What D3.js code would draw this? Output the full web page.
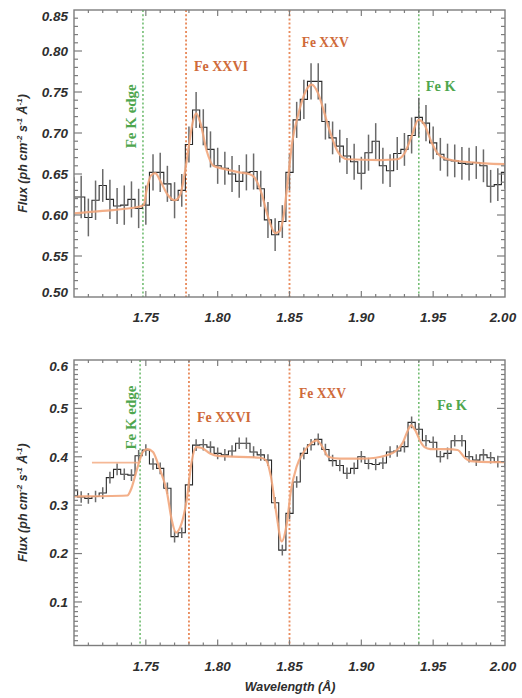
<!DOCTYPE html>
<html>
<head>
<meta charset="utf-8">
<script src="https://cdn.jsdelivr.net/npm/d3@7"></script>
<style>
  html, body { margin: 0; padding: 0; background: #fff; }
  svg { display: block; }
</style>
</head>
<body>
<svg id="chart" width="522" height="698"></svg>
<script>
// ---------------- spectral data ----------------
// Bin grid: centres every 0.005 Å from 1.700 to 2.000
const binWidth = 0.005;
const binWave = d3.range(61).map(i => +(1.700 + i * binWidth).toFixed(3));

// Upper spectrum (flux and 1-sigma errors per bin)
const topFlux = [
  0.622, 0.622, 0.597, 0.618, 0.636, 0.619, 0.611, 0.612, 0.619, 0.608,
  0.612, 0.652, 0.652, 0.638, 0.618, 0.630, 0.686, 0.728, 0.707, 0.680,
  0.660, 0.657, 0.650, 0.641, 0.652, 0.653, 0.632, 0.594, 0.576, 0.592,
  0.652, 0.716, 0.741, 0.763, 0.763, 0.714, 0.694, 0.684, 0.672, 0.665,
  0.651, 0.676, 0.690, 0.660, 0.654, 0.675, 0.680, 0.697, 0.719, 0.712,
  0.688, 0.674, 0.667, 0.666, 0.663, 0.662, 0.664, 0.660, 0.635, 0.637,
  0.652
];
const topErr = [
  0.024, 0.026, 0.023, 0.024, 0.020, 0.024, 0.022, 0.024, 0.022, 0.024,
  0.024, 0.022, 0.024, 0.022, 0.022, 0.020, 0.022, 0.022, 0.022, 0.022,
  0.022, 0.020, 0.022, 0.020, 0.022, 0.022, 0.022, 0.022, 0.020, 0.020,
  0.022, 0.022, 0.024, 0.022, 0.022, 0.022, 0.020, 0.020, 0.022, 0.022,
  0.020, 0.022, 0.022, 0.022, 0.020, 0.020, 0.020, 0.022, 0.024, 0.022,
  0.020, 0.020, 0.020, 0.020, 0.020, 0.020, 0.020, 0.020, 0.020, 0.020,
  0.020
];

// Lower spectrum
const bottomFlux = [
  0.331, 0.317, 0.314, 0.318, 0.325, 0.357, 0.374, 0.364, 0.362, 0.402,
  0.414, 0.385, 0.376, 0.335, 0.235, 0.243, 0.342, 0.424, 0.425, 0.420,
  0.407, 0.404, 0.412, 0.428, 0.428, 0.410, 0.404, 0.393, 0.305, 0.207,
  0.283, 0.348, 0.407, 0.425, 0.436, 0.415, 0.392, 0.382, 0.366, 0.376,
  0.400, 0.386, 0.384, 0.387, 0.410, 0.412, 0.421, 0.471, 0.457, 0.433,
  0.430, 0.400, 0.407, 0.433, 0.433, 0.400, 0.393, 0.404, 0.398, 0.390,
  0.390
];
const bottomErr = [
  0.012, 0.012, 0.011, 0.012, 0.012, 0.012, 0.012, 0.012, 0.012, 0.012,
  0.012, 0.012, 0.012, 0.012, 0.012, 0.011, 0.012, 0.012, 0.012, 0.012,
  0.012, 0.012, 0.012, 0.012, 0.012, 0.012, 0.012, 0.012, 0.012, 0.011,
  0.012, 0.012, 0.012, 0.012, 0.012, 0.012, 0.012, 0.012, 0.012, 0.012,
  0.012, 0.012, 0.012, 0.012, 0.012, 0.012, 0.012, 0.012, 0.012, 0.012,
  0.012, 0.012, 0.012, 0.012, 0.012, 0.012, 0.012, 0.012, 0.012, 0.012,
  0.012
];

// Best-fit models
const topModelWave = [1.700, 1.720, 1.745, 1.7485, 1.7505, 1.7535, 1.7565, 1.760, 1.765, 1.7703,
  1.774, 1.777, 1.780, 1.7825, 1.785, 1.788, 1.7924, 1.797, 1.805, 1.815, 1.822, 1.826,
  1.8306, 1.835, 1.840, 1.843, 1.846, 1.849, 1.852, 1.856, 1.861, 1.8654, 1.870, 1.874,
  1.877, 1.884, 1.890, 1.9135, 1.925, 1.930, 1.935, 1.9397, 1.944, 1.949, 1.9536, 1.960,
  1.986, 2.000];
const topModelFlux = [0.602, 0.605, 0.610, 0.612, 0.630, 0.648, 0.651, 0.642, 0.625, 0.618,
  0.625, 0.650, 0.685, 0.712, 0.724, 0.712, 0.678, 0.660, 0.656, 0.652, 0.650, 0.645,
  0.626, 0.598, 0.578, 0.580, 0.600, 0.645, 0.690, 0.722, 0.750, 0.759, 0.748, 0.726,
  0.708, 0.676, 0.668, 0.667, 0.668, 0.675, 0.696, 0.716, 0.710, 0.688, 0.674, 0.668,
  0.663, 0.662];

const bottomModelWave = [1.700, 1.737, 1.740, 1.7425, 1.745, 1.748, 1.751, 1.755, 1.7585, 1.7615,
  1.7645, 1.768, 1.771, 1.774, 1.7784, 1.7819, 1.785, 1.789, 1.7947, 1.800, 1.830, 1.834,
  1.837, 1.841, 1.8446, 1.848, 1.851, 1.855, 1.860, 1.865, 1.869, 1.873, 1.877, 1.885,
  1.900, 1.910, 1.9165, 1.924, 1.929, 1.932, 1.9346, 1.938, 1.941, 1.944, 1.948, 1.960,
  1.967, 1.972, 1.976, 1.990, 2.000];
const bottomModelFlux = [0.318, 0.320, 0.335, 0.360, 0.386, 0.410, 0.416, 0.410, 0.385, 0.360,
  0.330, 0.270, 0.243, 0.255, 0.310, 0.390, 0.420, 0.418, 0.407, 0.402, 0.398, 0.392,
  0.360, 0.280, 0.225, 0.260, 0.330, 0.380, 0.410, 0.428, 0.434, 0.420, 0.400, 0.396,
  0.396, 0.398, 0.402, 0.412, 0.430, 0.452, 0.465, 0.452, 0.432, 0.420, 0.416, 0.416,
  0.414, 0.398, 0.391, 0.389, 0.389];
// short level segment of the lower model on the blue side of the edge
const bottomShelfWave = [1.7125, 1.745];
const bottomShelfFlux = [0.388, 0.388];

// Line identifications
const lineNames = ["Fe K edge", "Fe XXVI", "Fe XXV", "Fe K"];
const lineKinds = ["edge", "ion", "ion", "edge"];
const topLineWave = [1.748, 1.778, 1.850, 1.940];
const bottomLineWave = [1.746, 1.780, 1.850, 1.940];

// Axis ticks
const xTicks = [1.75, 1.80, 1.85, 1.90, 1.95, 2.00];
const topYTicks = [0.50, 0.55, 0.60, 0.65, 0.70, 0.75, 0.80, 0.85];
const bottomYTicks = [0.1, 0.2, 0.3, 0.4, 0.5, 0.6];

// ---------------- layout & style ----------------
const svg = d3.select("#chart");
const plotLeft = 74, plotRight = 505;
const colors = {
  frame: "#7d7d7d", text: "#2e2e2e", hist: "#2a2a2a", err: "#6a6a6a",
  model: "#f2a67c", ionLine: "#e98c5e", edgeLine: "#72bd72",
  ionText: "#cf6a3a", edgeText: "#4ea64e"
};
const tickFont = "'Liberation Sans', Arial, sans-serif";
const labelFont = "'Liberation Serif', 'Times New Roman', serif";

const panels = [
  {
    id: "top", top: 10, bottom: 297, yDomain: [0.50, 0.85], yTicks: topYTicks, yFmt: d3.format(".2f"),
    flux: topFlux, err: topErr, modelWave: topModelWave, modelFlux: topModelFlux,
    lineWave: topLineWave,
    labels: [
      { w: 1.7435, f: 0.7204, rot: true, len: 64 },
      { w: 1.7835, f: 0.7751, rot: false, len: 54 },
      { w: 1.8585, f: 0.8049, rot: false, len: 47 },
      { w: 1.9448, f: 0.7507, rot: false, len: 30 }
    ]
  },
  {
    id: "bottom", top: 360, bottom: 645.5, yDomain: [0.01, 0.60], yTicks: bottomYTicks, yFmt: d3.format(".1f"),
    flux: bottomFlux, err: bottomErr, modelWave: bottomModelWave, modelFlux: bottomModelFlux,
    lineWave: bottomLineWave, shelf: true,
    labels: [
      { w: 1.7435, f: 0.4811, rot: true, len: 64 },
      { w: 1.7856, f: 0.4718, rot: false, len: 54 },
      { w: 1.8566, f: 0.5214, rot: false, len: 47 },
      { w: 1.9527, f: 0.4966, rot: false, len: 30 }
    ]
  }
];

const x = d3.scaleLinear().domain([1.70, 2.00]).range([plotLeft, plotRight]);

panels.forEach(p => {
  const y = d3.scaleLinear().domain(p.yDomain).range([p.bottom, p.top]);
  const g = svg.append("g").attr("class", "panel-" + p.id);

  const clipId = "clip-" + p.id;
  svg.append("clipPath").attr("id", clipId)
    .append("rect").attr("x", plotLeft).attr("y", p.top)
    .attr("width", plotRight - plotLeft).attr("height", p.bottom - p.top);

  const plot = g.append("g").attr("clip-path", `url(#${clipId})`);

  // dotted identification lines
  p.lineWave.forEach((w, i) => {
    const ion = lineKinds[i] === "ion";
    plot.append("line")
      .attr("x1", x(w)).attr("x2", x(w)).attr("y1", p.top).attr("y2", p.bottom)
      .attr("stroke", ion ? colors.ionLine : colors.edgeLine)
      .attr("stroke-width", ion ? 1.9 : 1.6)
      .attr("stroke-dasharray", "2,2.2");
  });

  // stepped histogram
  const steps = [];
  binWave.forEach((w, i) => {
    steps.push([w - binWidth / 2, p.flux[i]]);
    steps.push([w + binWidth / 2, p.flux[i]]);
  });
  plot.append("path")
    .attr("d", d3.line().x(d => x(d[0])).y(d => y(d[1]))(steps))
    .attr("fill", "none").attr("stroke", colors.hist).attr("stroke-width", 1.1);

  // error bars
  plot.selectAll("line.err").data(binWave).join("line").attr("class", "err")
    .attr("x1", d => x(d)).attr("x2", d => x(d))
    .attr("y1", (d, i) => y(p.flux[i] - p.err[i]))
    .attr("y2", (d, i) => y(p.flux[i] + p.err[i]))
    .attr("stroke", colors.err).attr("stroke-width", 1.5);

  // model
  const modelPts = p.modelWave.map((w, i) => [w, p.modelFlux[i]]);
  const modelLine = d3.line().x(d => x(d[0])).y(d => y(d[1])).curve(d3.curveMonotoneX);
  plot.append("path").attr("d", modelLine(modelPts))
    .attr("fill", "none").attr("stroke", colors.model).attr("stroke-width", 2.2)
    .attr("stroke-opacity", 0.9);
  if (p.shelf) {
    plot.append("path")
      .attr("d", d3.line().x(d => x(d[0])).y(d => y(d[1]))(bottomShelfWave.map((w, i) => [w, bottomShelfFlux[i]])))
      .attr("fill", "none").attr("stroke", colors.model).attr("stroke-width", 1.8).attr("stroke-opacity", 0.8);
  }

  // identification labels
  p.labels.forEach((lb, i) => {
    const ion = lineKinds[i] === "ion";
    const t = g.append("text")
      .attr("font-family", labelFont).attr("font-weight", "bold").attr("font-size", 14)
      .attr("fill", ion ? colors.ionText : colors.edgeText)
      .attr("textLength", lb.len).attr("lengthAdjust", "spacingAndGlyphs")
      .text(lineNames[i]);
    if (lb.rot) {
      t.attr("text-anchor", "middle")
        .attr("transform", `translate(${x(lb.w)},${y(lb.f)}) rotate(-90)`);
    } else {
      t.attr("x", x(lb.w)).attr("y", y(lb.f));
    }
  });

  // frame
  g.append("rect").attr("x", plotLeft).attr("y", p.top)
    .attr("width", plotRight - plotLeft).attr("height", p.bottom - p.top)
    .attr("fill", "none").attr("stroke", colors.frame).attr("stroke-width", 1.4);

  // x ticks (inward, bottom and top)
  const xMinor = d3.range(171, 200).map(v => v / 100);
  const xAll = xMinor.map(v => ({ v, major: Math.abs(v * 20 - Math.round(v * 20)) < 1e-6 }));
  xAll.forEach(t => {
    const len = t.major ? 6 : 3;
    g.append("line").attr("x1", x(t.v)).attr("x2", x(t.v))
      .attr("y1", p.bottom).attr("y2", p.bottom - len)
      .attr("stroke", colors.frame).attr("stroke-width", 1.2);
    g.append("line").attr("x1", x(t.v)).attr("x2", x(t.v))
      .attr("y1", p.top).attr("y2", p.top + len)
      .attr("stroke", colors.frame).attr("stroke-width", 1.2);
  });

  // y ticks (inward, left and right)
  const lo = Math.round(p.yDomain[0] * 100), hi = Math.round(p.yDomain[1] * 100);
  const majorSet = new Set(p.yTicks.map(v => Math.round(v * 100)));
  d3.range(lo + 1, hi).forEach(k => {
    const major = majorSet.has(k);
    const len = major ? 8 : 4;
    const yy = y(k / 100);
    g.append("line").attr("x1", plotLeft).attr("x2", plotLeft + len)
      .attr("y1", yy).attr("y2", yy).attr("stroke", colors.frame).attr("stroke-width", 1.2);
    g.append("line").attr("x1", plotRight).attr("x2", plotRight - len)
      .attr("y1", yy).attr("y2", yy).attr("stroke", colors.frame).attr("stroke-width", 1.2);
  });

  // tick labels
  g.selectAll("text.ylab").data(p.yTicks).join("text").attr("class", "ylab")
    .attr("x", plotLeft - 6)
    .attr("y", d => Math.min(Math.max(y(d), p.top + 6.5), p.bottom - 4.5))
    .attr("dy", "0.36em")
    .attr("text-anchor", "end")
    .attr("font-family", tickFont).attr("font-weight", "bold").attr("font-style", "italic")
    .attr("font-size", 13.5).attr("fill", colors.text)
    .text(p.yFmt);
  g.selectAll("text.xlab").data(xTicks).join("text").attr("class", "xlab")
    .attr("x", d => Math.min(x(d), plotRight - 2))
    .attr("y", p.bottom + 25)
    .attr("text-anchor", "middle")
    .attr("font-family", tickFont).attr("font-weight", "bold").attr("font-style", "italic")
    .attr("font-size", 13.5).attr("fill", colors.text)
    .text(d3.format(".2f"));

  // y-axis title
  const cy = (p.top + p.bottom) / 2;
  const yt = g.append("text")
    .attr("transform", `translate(27,${cy}) rotate(-90)`)
    .attr("text-anchor", "middle")
    .attr("font-family", tickFont).attr("font-weight", "bold").attr("font-style", "italic")
    .attr("font-size", 12.5).attr("fill", colors.text);
  yt.append("tspan").text("Flux (ph cm");
  yt.append("tspan").attr("dy", -5).attr("font-size", 8).text("-2");
  yt.append("tspan").attr("dy", 5).text(" s");
  yt.append("tspan").attr("dy", -5).attr("font-size", 8).text("-1");
  yt.append("tspan").attr("dy", 5).text(" Å");
  yt.append("tspan").attr("dy", -5).attr("font-size", 8).text("-1");
  yt.append("tspan").attr("dy", 5).text(")");
});

// x-axis title (lower panel)
svg.append("text")
  .attr("x", (plotLeft + plotRight) / 2 + 0.5).attr("y", 691)
  .attr("text-anchor", "middle")
  .attr("font-family", tickFont).attr("font-weight", "bold").attr("font-style", "italic")
  .attr("font-size", 12.5).attr("fill", colors.text)
  .text("Wavelength (Å)");
</script>
</body>
</html>
